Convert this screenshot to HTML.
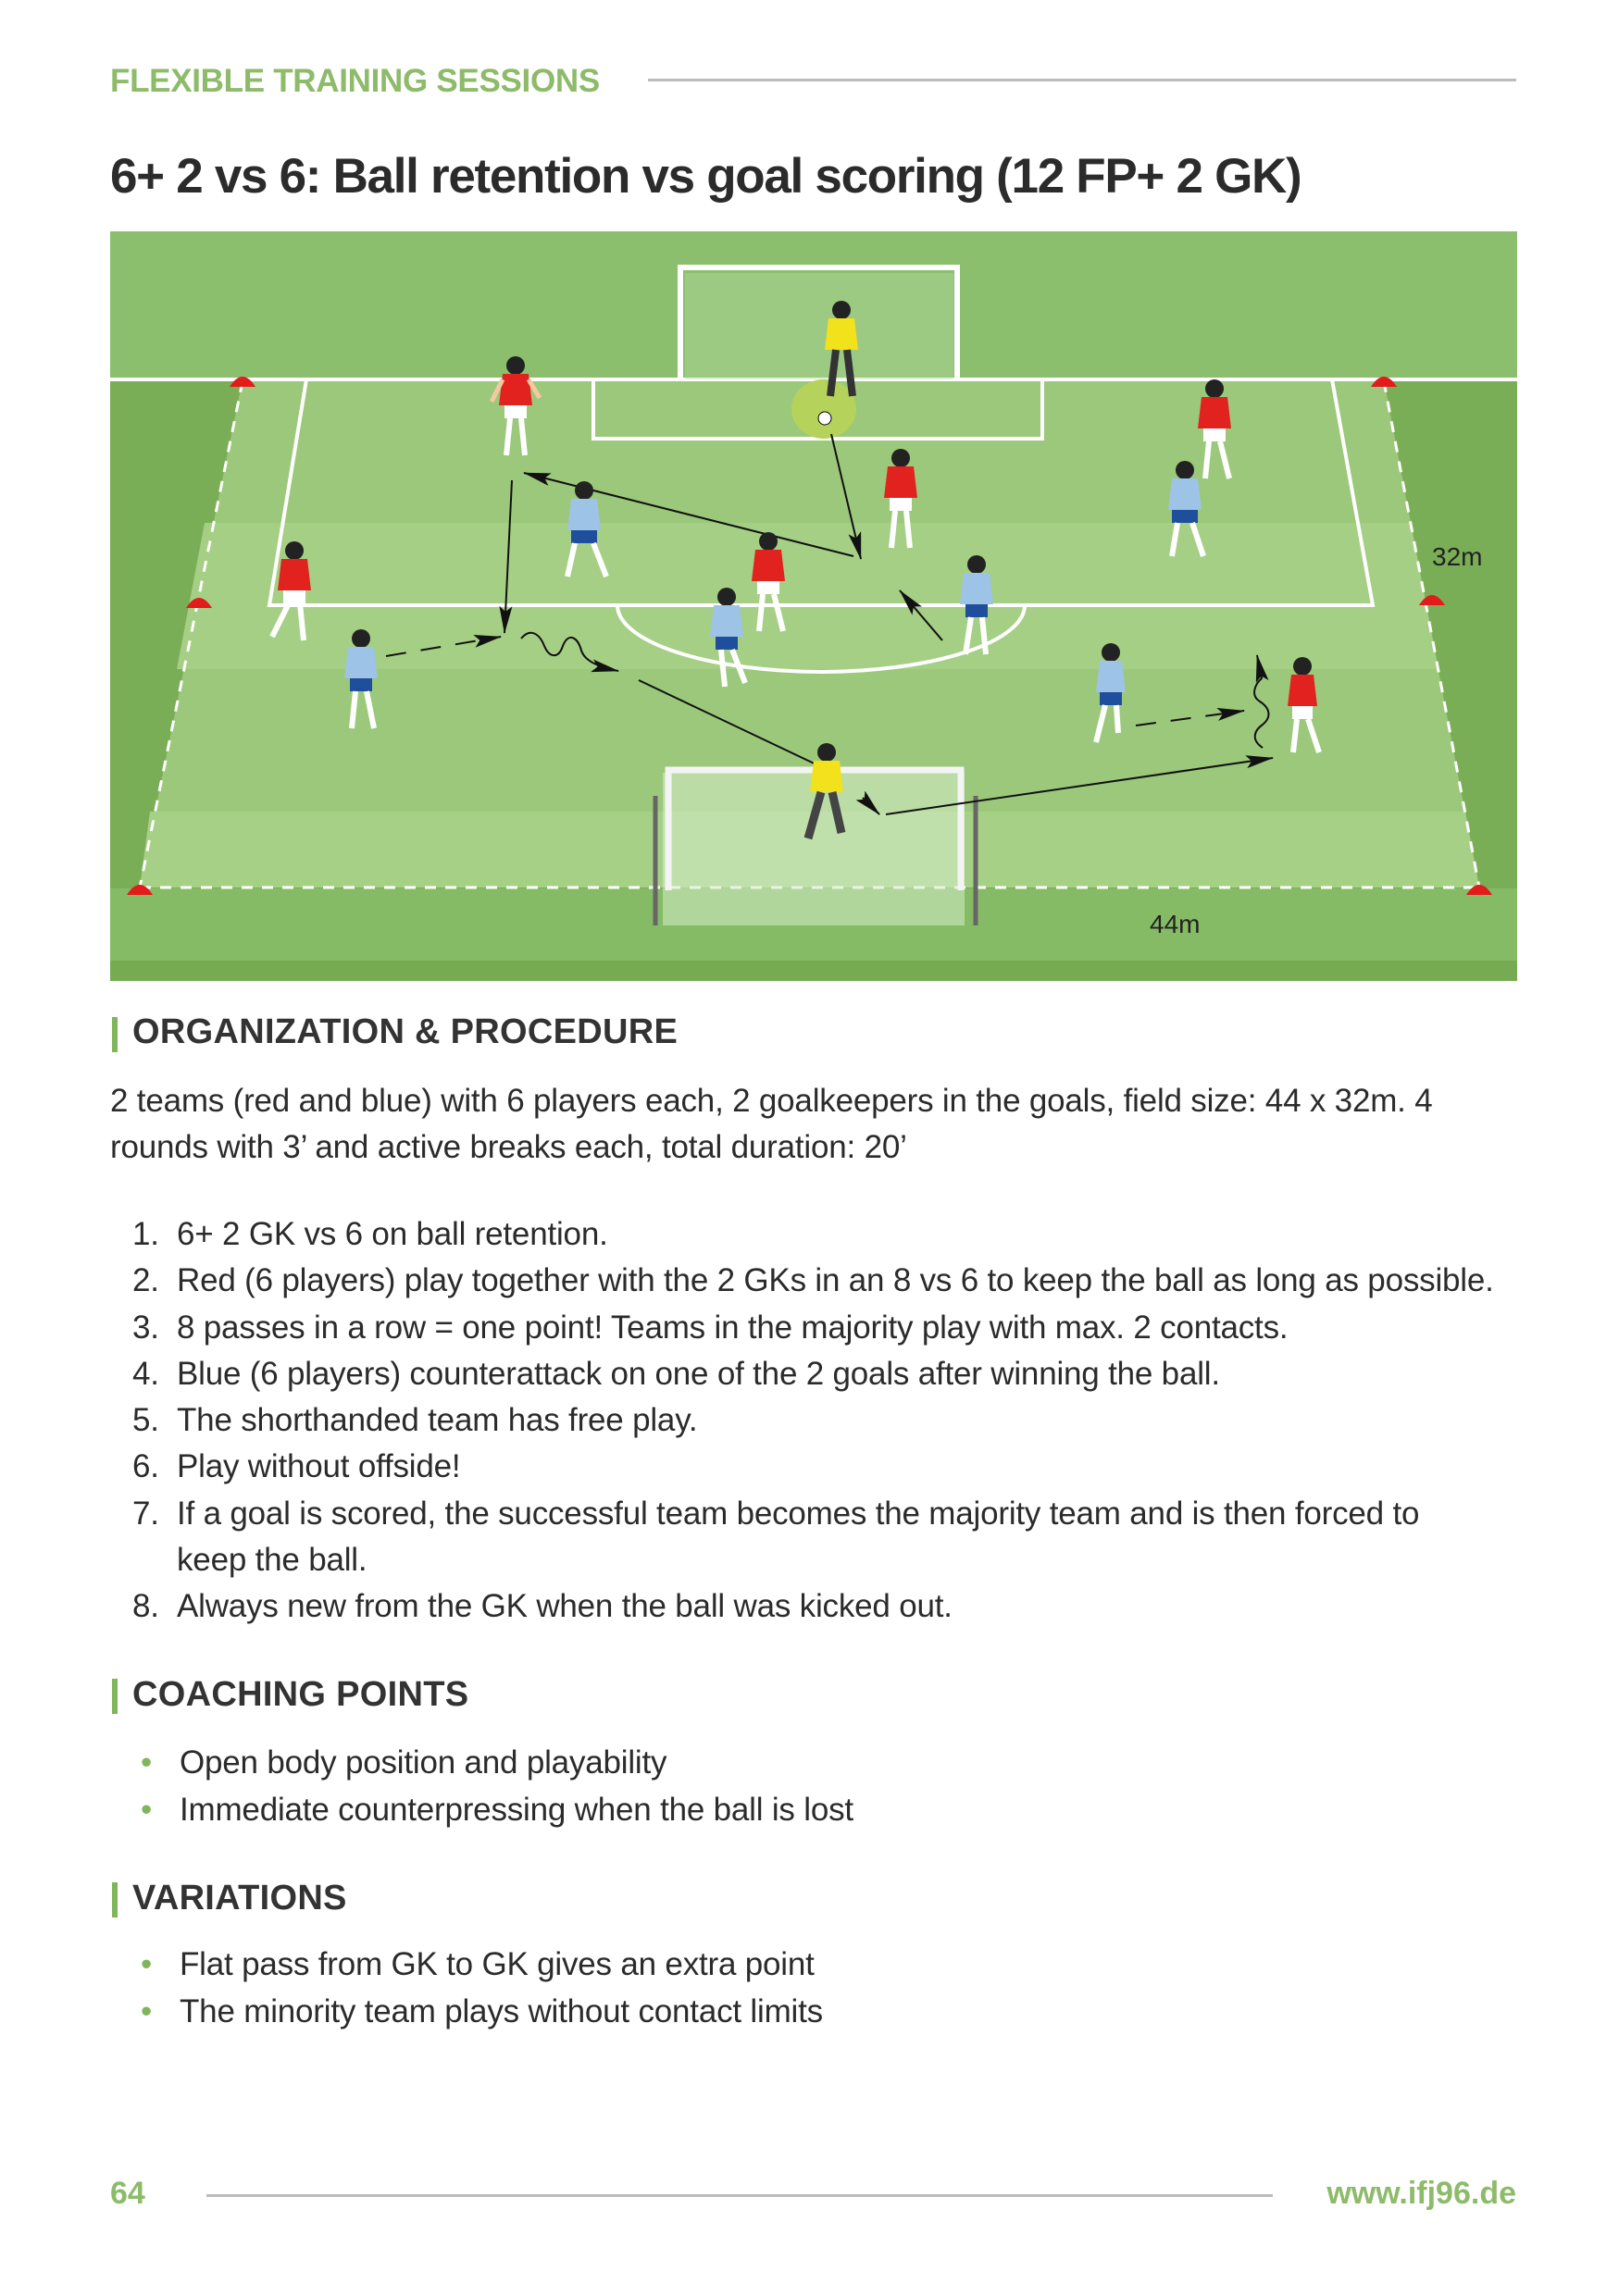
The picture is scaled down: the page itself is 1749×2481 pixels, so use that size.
<!DOCTYPE html>
<html><head><meta charset="utf-8"><style>
body{margin:0;background:#fff;}
.pg{position:relative;width:1749px;height:2481px;overflow:hidden;font-family:"Liberation Sans",sans-serif;color:#2b2b2b;}
.abs{position:absolute;white-space:nowrap;}
.hd{font-size:38px;font-weight:bold;color:#333;letter-spacing:0.3px;}
.bar{position:absolute;width:6px;height:38px;background:#7fb65c;}
.tx{font-size:35px;letter-spacing:-0.2px;}
</style></head><body><div class="pg">
<div class="abs" style="left:119px;top:68px;font-size:35px;color:#8dbb6a;font-weight:bold;letter-spacing:-0.3px;">FLEXIBLE TRAINING SESSIONS</div>
<div class="abs" style="left:700px;top:85px;width:938px;height:3px;background:#bbb;"></div>
<div class="abs" style="left:119px;top:160px;font-size:53px;font-weight:bold;color:#2b2b2b;letter-spacing:-1.3px;">6+ 2 vs 6: Ball retention vs goal scoring (12 FP+ 2 GK)</div>

<svg class="abs" style="left:119px;top:250px" width="1520" height="810" viewBox="119 250 1520 810">
<defs><marker id="b" markerWidth="30" markerHeight="14" refX="29" refY="7" orient="auto" markerUnits="userSpaceOnUse"><path d="M0,0 L30,7 L0,14 L6,7 z" fill="#111"/></marker></defs>
<rect x="119" y="250" width="1520" height="810" fill="#8bbf6e"/>
<rect x="119" y="410" width="1520" height="650" fill="#7aae56"/>
<polygon points="262,410 1495,410 1598,959 151,959" fill="#9cc87b"/>
<polygon points="221,565 1524,565 1554,723 191,723" fill="#a5cf85"/>
<polygon points="162,877 1583,877 1598,959 151,959" fill="#a7d087"/>
<rect x="119" y="960" width="1520" height="78" fill="#86bb66"/>
<rect x="119" y="1038" width="1520" height="22" fill="#76ab52"/>
<line x1="119" y1="410" x2="1639" y2="410" stroke="#fff" stroke-width="4"/>
<g stroke="#fff" stroke-width="3" stroke-dasharray="12 10" fill="none">
<line x1="262" y1="412" x2="151" y2="959"/><line x1="1495" y1="412" x2="1598" y2="959"/><line x1="151" y1="959" x2="1598" y2="959"/></g>
<g stroke="#fff" stroke-width="4" fill="none">
<polyline points="331,410 291,654 1483,654 1439,410"/>
<polyline points="641,410 641,474 1126,474 1126,410"/>
<path d="M667,654 A220,72 0 0 0 1107,654"/></g>
<rect x="740" y="295" width="290" height="115" fill="#b8dba1" opacity="0.4"/>
<path d="M735,410 V289 H1034 V410" stroke="#fff" stroke-width="6" fill="none"/>
<rect x="716" y="835" width="326" height="165" fill="#d6ecc8" opacity="0.55"/>
<line x1="708" y1="860" x2="708" y2="1000" stroke="#666" stroke-width="5"/>
<line x1="1054" y1="860" x2="1054" y2="1000" stroke="#666" stroke-width="5"/>
<path d="M722,962 V832 H1038 V962" stroke="#f4f4f4" stroke-width="7" fill="none"/>
<g fill="#e21b1b"><path d="M248,418 Q262,396 276,418z"/><path d="M1481,418 Q1495,396 1509,418z"/><path d="M201,657 Q215,635 229,657z"/><path d="M1533,654 Q1547,632 1561,654z"/><path d="M137,967 Q151,945 165,967z"/><path d="M1584,967 Q1598,945 1612,967z"/></g>
<ellipse cx="890" cy="442" rx="35" ry="32" fill="#b5d35a"/>
<circle cx="891" cy="452" r="7" fill="#fff" stroke="#000"/>
<g stroke="#111" stroke-width="2" fill="none">
<line x1="922" y1="601" x2="566" y2="511" marker-end="url(#b)"/>
<line x1="553" y1="519" x2="545" y2="684" marker-end="url(#b)"/>
<line x1="417" y1="709" x2="541" y2="688" stroke-dasharray="22 16" marker-end="url(#b)"/>
<path d="M563,690 c10,-12 20,-5 25,8 c5,12 15,15 20,0 c6,-15 16,-10 20,5 c4,12 20,18 40,22" marker-end="url(#b)"/>
<line x1="690" y1="735" x2="890" y2="830"/>
<line x1="898" y1="469" x2="930" y2="604" marker-end="url(#b)"/>
<line x1="1018" y1="692" x2="972" y2="638" marker-end="url(#b)"/>
<line x1="957" y1="880" x2="1375" y2="819" marker-end="url(#b)"/>
<line x1="932" y1="862" x2="950" y2="880" marker-end="url(#b)"/>
<line x1="1227" y1="784" x2="1344" y2="768" stroke-dasharray="22 16" marker-end="url(#b)"/>
<path d="M1364,808 c-12,-8 -10,-18 0,-25 c10,-8 8,-18 -3,-25 c-10,-6 -6,-18 2,-25 l-5,-25" marker-end="url(#b)"/>
</g>
<g>
<g transform="translate(557,440)"><circle cy="-45" r="10" fill="#222"/><path d="M-14,-36 h28 l4,34 h-36z" fill="#e2221f"/><rect x="-12" y="-2" width="24" height="14" fill="#fff"/><path d="M-6,12 l-4,40 M6,12 l4,40" stroke="#fff" stroke-width="6"/><path d="M-14,-30 l-12,24 M14,-30 l12,20" stroke="#f2c9a0" stroke-width="5"/></g>
<g transform="translate(1312,465)"><circle cy="-45" r="10" fill="#222"/><path d="M-14,-36 h28 l4,34 h-36z" fill="#e2221f"/><rect x="-12" y="-2" width="24" height="14" fill="#fff"/><path d="M-6,12 l-4,40 M6,12 l10,40" stroke="#fff" stroke-width="6"/></g>
<g transform="translate(973,540)"><circle cy="-45" r="10" fill="#222"/><path d="M-14,-36 h28 l4,34 h-36z" fill="#e2221f"/><rect x="-12" y="-2" width="24" height="14" fill="#fff"/><path d="M-6,12 l-4,40 M6,12 l4,40" stroke="#fff" stroke-width="6"/></g>
<g transform="translate(830,630)"><circle cy="-45" r="10" fill="#222"/><path d="M-14,-36 h28 l4,34 h-36z" fill="#e2221f"/><rect x="-12" y="-2" width="24" height="14" fill="#fff"/><path d="M-6,12 l-4,40 M6,12 l10,40" stroke="#fff" stroke-width="6"/></g>
<g transform="translate(318,640)"><circle cy="-45" r="10" fill="#222"/><path d="M-14,-36 h28 l4,34 h-36z" fill="#e2221f"/><rect x="-12" y="-2" width="24" height="14" fill="#fff"/><path d="M-6,12 l-18,36 M6,12 l4,40" stroke="#fff" stroke-width="6"/></g>
<g transform="translate(1407,765)"><circle cy="-45" r="10" fill="#222"/><path d="M-12,-36 h24 l4,34 h-32z" fill="#e2221f"/><rect x="-11" y="-2" width="22" height="14" fill="#fff"/><path d="M-6,12 l-4,36 M6,12 l12,36" stroke="#fff" stroke-width="6"/></g>
<g transform="translate(631,575)"><circle cy="-45" r="10" fill="#222"/><path d="M-14,-36 h28 l4,34 h-36z" fill="#9dc3e6"/><rect x="-14" y="-2" width="28" height="14" fill="#1f4e9c"/><path d="M-10,12 l-8,36 M10,12 l14,36" stroke="#fff" stroke-width="6"/></g>
<g transform="translate(1280,553)"><circle cy="-45" r="10" fill="#222"/><path d="M-14,-36 h28 l4,34 h-36z" fill="#9dc3e6"/><rect x="-14" y="-2" width="28" height="14" fill="#1f4e9c"/><path d="M-8,12 l-6,36 M8,12 l12,36" stroke="#fff" stroke-width="6"/></g>
<g transform="translate(785,690)"><circle cy="-45" r="10" fill="#222"/><path d="M-14,-36 h28 l4,34 h-36z" fill="#9dc3e6"/><rect x="-12" y="-2" width="24" height="14" fill="#1f4e9c"/><path d="M-6,12 l4,40 M6,12 l14,36" stroke="#fff" stroke-width="6"/></g>
<g transform="translate(1055,655)"><circle cy="-45" r="10" fill="#222"/><path d="M-14,-36 h28 l4,34 h-36z" fill="#9dc3e6"/><rect x="-12" y="-2" width="24" height="14" fill="#1f4e9c"/><path d="M-6,12 l-6,40 M6,12 l4,40" stroke="#fff" stroke-width="6"/></g>
<g transform="translate(390,735)"><circle cy="-45" r="10" fill="#222"/><path d="M-14,-36 h28 l4,34 h-36z" fill="#9dc3e6"/><rect x="-12" y="-2" width="24" height="14" fill="#1f4e9c"/><path d="M-6,12 l-4,40 M6,12 l8,40" stroke="#fff" stroke-width="6"/></g>
<g transform="translate(1200,750)"><circle cy="-45" r="10" fill="#222"/><path d="M-12,-36 h24 l4,34 h-32z" fill="#9dc3e6"/><rect x="-12" y="-2" width="24" height="14" fill="#1f4e9c"/><path d="M-6,12 l-10,40 M6,12 l2,30" stroke="#fff" stroke-width="6"/></g>
<g transform="translate(909,380)"><circle cy="-45" r="10" fill="#222"/><path d="M-14,-36 h28 l4,34 h-36z" fill="#f2e21c"/><path d="M-6,-2 l-6,50 M6,-2 l6,50" stroke="#333" stroke-width="8"/></g>
<g transform="translate(893,858)"><circle cy="-45" r="10" fill="#222"/><path d="M-14,-36 h28 l4,34 h-36z" fill="#f2e21c"/><path d="M-6,-2 l-14,50 M6,-2 l10,44" stroke="#444" stroke-width="9"/></g>
</g>
<text x="1547" y="611" font-family="Liberation Sans" font-size="28" fill="#222">32m</text>
<text x="1242" y="1008" font-family="Liberation Sans" font-size="28" fill="#222">44m</text>
</svg>

<div class="bar" style="left:121px;top:1099px;"></div>
<div class="abs hd" style="left:143px;top:1094px;">ORGANIZATION &amp; PROCEDURE</div>
<div class="abs tx" style="left:119px;top:1165px;line-height:49.5px;">2 teams (red and blue) with 6 players each, 2 goalkeepers in the goals, field size: 44 x 32m. 4<br>rounds with 3’ and active breaks each, total duration: 20’</div>
<div class="abs tx" style="left:143px;top:1309px;line-height:50.3px;">1.<br>2.<br>3.<br>4.<br>5.<br>6.<br>7.<br><br>8.</div>
<div class="abs tx" style="left:191px;top:1309px;line-height:50.3px;">6+ 2 GK vs 6 on ball retention.<br>Red (6 players) play together with the 2 GKs in an 8 vs 6 to keep the ball as long as possible.<br>8 passes in a row = one point! Teams in the majority play with max. 2 contacts.<br>Blue (6 players) counterattack on one of the 2 goals after winning the ball.<br>The shorthanded team has free play.<br>Play without offside!<br>If a goal is scored, the successful team becomes the majority team and is then forced to<br>keep the ball.<br>Always new from the GK when the ball was kicked out.</div>

<div class="bar" style="left:121px;top:1814px;"></div>
<div class="abs hd" style="left:143px;top:1810px;">COACHING POINTS</div>
<div class="abs tx" style="left:152px;top:1879px;line-height:51px;"><span style="color:#7fb65c">•</span><br><span style="color:#7fb65c">•</span></div>
<div class="abs tx" style="left:194px;top:1879px;line-height:51px;">Open body position and playability<br>Immediate counterpressing when the ball is lost</div>

<div class="bar" style="left:121px;top:2034px;"></div>
<div class="abs hd" style="left:143px;top:2030px;">VARIATIONS</div>
<div class="abs tx" style="left:152px;top:2097px;line-height:51px;"><span style="color:#7fb65c">•</span><br><span style="color:#7fb65c">•</span></div>
<div class="abs tx" style="left:194px;top:2097px;line-height:51px;">Flat pass from GK to GK gives an extra point<br>The minority team plays without contact limits</div>

<div class="abs" style="left:119px;top:2351px;font-size:34px;color:#8dbb6a;font-weight:bold;">64</div>
<div class="abs" style="left:223px;top:2371px;width:1152px;height:3px;background:#bbb;"></div>
<div class="abs" style="right:111px;top:2351px;font-size:34px;color:#8dbb6a;font-weight:bold;">www.ifj96.de</div>
</div></body></html>
